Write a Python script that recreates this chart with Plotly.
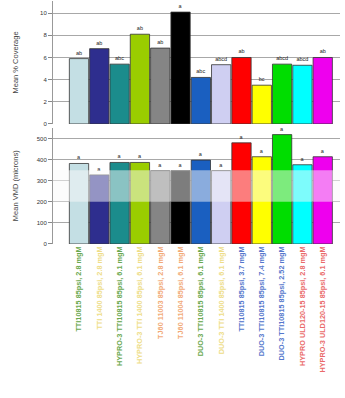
import plotly.graph_objects as go

categories = [
    "TTI10815 85psi, 2.8 mgM",
    "TTI 1400 85psi, 2.8 mgM",
    "HYPRO-3 TTI10815 85psi, 6.1 mgM",
    "HYPRO-3 TTI 1400 85psi, 6.1 mgM",
    "TJ60 11003 85psi, 2.8 mgM",
    "TJ60 11004 85psi, 6.1 mgM",
    "DUO-3 TTI10815 85psi, 6.1 mgM",
    "DUO-3 TTI 1400 85psi, 6.1 mgM",
    "TTI10815 85psi, 3.7 mgM",
    "DUO-3 TTI10815 85psi, 7.4 mgM",
    "DUO-3 TTI10815 85psi, 2.52 mgM",
    "HYPRO ULD120-15 85psi, 2.8 mgM",
    "HYPRO-3 ULD120-15 85psi, 6.1 mgM",
]
label_colors = ["#6aa84f", "#eedd88", "#6aa84f", "#eedd88", "#f2aa77", "#f2aa77", "#6aa84f",
                "#eedd88", "#5577cc", "#5577cc", "#5577cc", "#ea6a6a", "#ea6a6a"]
bar_colors = ["#c4dfe4", "#2e2e8e", "#1b8c8c", "#9acd00", "#858585", "#000000", "#1a5fc0",
              "#cfcff2", "#ff0000", "#ffff00", "#00dd00", "#00ffff", "#ee00ee"]

coverage = [5.9, 6.8, 5.4, 8.1, 6.85, 10.1, 4.2, 5.35, 6.0, 3.5, 5.4, 5.3, 6.0]
coverage_letters = ["ab", "ab", "abc", "ab", "ab", "a", "abc", "abcd", "ab", "bc", "abcd", "abcd", "ab"]

vmd = [382, 328, 387, 387, 348, 348, 398, 348, 480, 414, 519, 376, 414]
vmd_letters = ["a"] * 13

cov_ticks = [0, 2, 4, 6, 8, 10]
vmd_ticks = [0, 100, 200, 300, 400, 500]

x = list(range(len(categories)))
ticktext = [f"<span style='color:{c}'><b>{t}</b></span>" for t, c in zip(categories, label_colors)]

fig = go.Figure()
fig.add_trace(go.Bar(
    x=x, y=coverage, text=coverage_letters, textposition="outside",
    textfont=dict(size=5.5, color="#222"), cliponaxis=False,
    marker=dict(color=bar_colors, line=dict(color="#333", width=0.8)),
    width=0.95, xaxis="x", yaxis="y", showlegend=False, hoverinfo="skip"))
fig.add_trace(go.Bar(
    x=x, y=vmd, text=vmd_letters, textposition="outside",
    textfont=dict(size=5.5, color="#222"), cliponaxis=False,
    marker=dict(color=bar_colors, line=dict(color="#333", width=0.8)),
    width=0.95, xaxis="x2", yaxis="y2", showlegend=False, hoverinfo="skip"))

xr = [-1.28, 12.85]
fig.update_layout(
    width=345, height=398,
    margin=dict(l=53, r=5, t=1, b=154, autoexpand=False),
    paper_bgcolor="white", plot_bgcolor="white",
    font=dict(family="Liberation Sans, Arial", color="#333"),
    xaxis=dict(domain=[0, 1], range=xr, anchor="y", showticklabels=False, automargin=False,
               showgrid=False, zeroline=False, ticks=""),
    xaxis2=dict(domain=[0, 1], range=xr, anchor="y2", tickvals=x, ticktext=ticktext, automargin=False,
                tickangle=-90, tickfont=dict(size=7.3), showgrid=False, zeroline=False, ticks=""),
    yaxis=dict(domain=[0.494, 1], range=[0, 11.1], tickvals=cov_ticks, automargin=False,
               tickfont=dict(size=6, color="#333"), ticks="outside", ticklen=4, tickcolor="#888",
               showgrid=True, gridcolor="#a8a8a8", gridwidth=1, zeroline=False,
               showline=True, linecolor="#999", linewidth=1),
    yaxis2=dict(domain=[0, 0.477], range=[0, 550], tickvals=vmd_ticks, automargin=False,
                tickfont=dict(size=6, color="#333"), ticks="outside", ticklen=4, tickcolor="#888",
                showgrid=True, gridcolor="#a8a8a8", gridwidth=1, zeroline=False,
                showline=True, linecolor="#999", linewidth=1),
    shapes=[dict(type="rect", xref="x2 domain", yref="y2", x0=0, x1=1, y0=200, y1=350,
                 fillcolor="rgba(250,250,250,0.5)", line=dict(width=0), layer="above")],
    annotations=[
        dict(text="Mean % Coverage", xref="paper", yref="paper", x=0, y=0.747,
             xanchor="center", yanchor="middle",
             xshift=-38, textangle=-90, showarrow=False, font=dict(size=7.5, color="#444")),
        dict(text="Mean VMD (microns)", xref="paper", yref="paper", x=0, y=0.238,
             xanchor="center", yanchor="middle",
             xshift=-38, textangle=-90, showarrow=False, font=dict(size=7.5, color="#444")),
    ],
)

fig.write_html("out.html", config={"displayModeBar": False},
               post_script="document.body.style.margin='0';document.body.style.padding='0';")
